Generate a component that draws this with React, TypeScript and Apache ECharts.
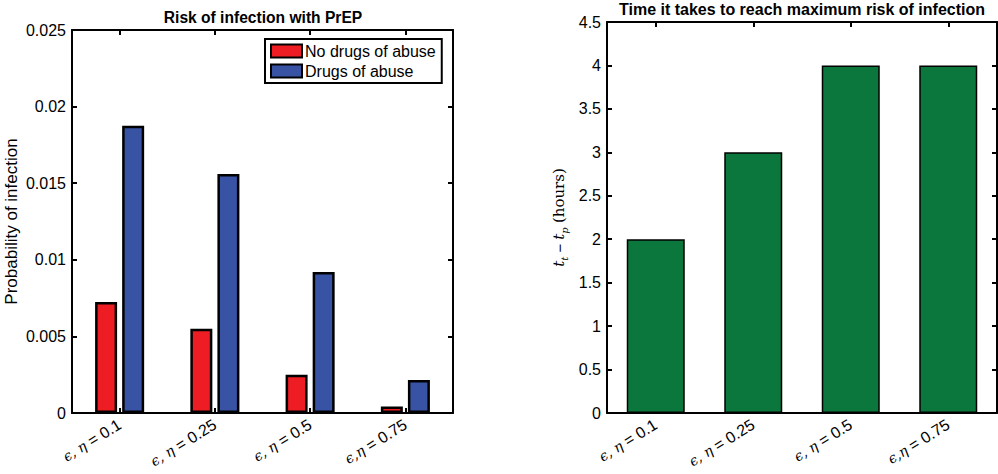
import React, { useEffect, useRef } from "react";
import * as echarts from "echarts";

const catLabels = ["ϵ, η = 0.1", "ϵ, η = 0.25", "ϵ, η = 0.5", "ϵ,η = 0.75"];
const noDrugs = [0.00725, 0.0055, 0.0025, 0.00043];
const drugs = [0.01875, 0.0156, 0.0092, 0.00215];
const timeToMax = [2, 3, 4, 4];
const seriesNames = ["No drugs of abuse", "Drugs of abuse"];
const titles = ["Risk of infection with PrEP", "Time it takes to reach maximum risk of infection"];
const leftYName = "Probability of infection";

const FONT = "Liberation Sans, Arial, Helvetica, sans-serif";
const MATH = "DejaVu Serif, serif";

export default function App() {
  const ref = useRef<HTMLDivElement>(null);
  useEffect(() => {
    document.body.style.margin = "0";
    if (!ref.current) return;
    const chart = echarts.init(ref.current, null, { renderer: "svg" });
    const black = "#000";
    const catLabel = {
      rotate: 32,
      margin: 10,
      fontSize: 16,
      color: black,
      fontFamily: FONT,
      formatter: (v: string) => {
        const [a, b] = v.split(" = ");
        return "{m|" + a + "} = " + b;
      },
      rich: { m: { fontFamily: MATH, fontStyle: "italic", fontSize: 14, color: black } },
    };
    const lineStyle = { color: black, width: 2 };
    const xBottom = (grid: number) => ({
      type: "category",
      gridIndex: grid,
      data: catLabels,
      position: "bottom",
      axisLine: { show: true, lineStyle, onZero: false },
      axisTick: { show: true, inside: true, alignWithLabel: true, length: 5, lineStyle },
      axisLabel: catLabel,
      splitLine: { show: false },
    });
    const xTop = (grid: number) => ({
      type: "category",
      gridIndex: grid,
      data: catLabels,
      position: "top",
      axisLine: { show: true, lineStyle, onZero: false },
      axisTick: { show: true, inside: true, alignWithLabel: true, length: 5, lineStyle },
      axisLabel: { show: false },
      splitLine: { show: false },
    });
    const yLeft = (grid: number, max: number, interval: number, name: any, nameGap: number, fontSize: number, rich?: any) => ({
      type: "value",
      gridIndex: grid,
      min: 0,
      max,
      interval,
      position: "left",
      name,
      nameLocation: "middle",
      nameGap,
      nameTextStyle: { fontSize, color: black, fontFamily: FONT, rich },
      axisLine: { show: true, lineStyle, onZero: false },
      axisTick: { show: true, inside: true, length: 5, lineStyle },
      axisLabel: { fontSize: 16, color: black, fontFamily: FONT, margin: 6 },
      splitLine: { show: false },
    });
    const yRight = (grid: number, max: number, interval: number) => ({
      type: "value",
      gridIndex: grid,
      min: 0,
      max,
      interval,
      position: "right",
      axisLine: { show: true, lineStyle, onZero: false },
      axisTick: { show: true, inside: true, length: 5, lineStyle },
      axisLabel: { show: false },
      splitLine: { show: false },
    });
    const rightName = "{i|t}{s|t} − {i|t}{s|p} {r|(hours)}";
    const rightRich = {
      i: { fontFamily: MATH, fontStyle: "italic", fontSize: 15, color: black, lineHeight: 20, verticalAlign: "middle" },
      s: { fontFamily: MATH, fontStyle: "italic", fontSize: 10, color: black, lineHeight: 20, verticalAlign: "bottom" },
      r: { fontFamily: MATH, fontSize: 15, color: black, lineHeight: 20, verticalAlign: "middle" },
    };
    chart.setOption({
      animation: false,
      grid: [
        { left: 72, right: 545, top: 30, bottom: 61 },
        { left: 607, right: 1, top: 22, bottom: 61 },
      ],
      xAxis: [xBottom(0), xTop(0), xBottom(1), xTop(1)],
      yAxis: [
        yLeft(0, 0.025, 0.005, leftYName, 52, 17),
        yRight(0, 0.025, 0.005),
        yLeft(1, 4.5, 0.5, rightName, 38, 15, rightRich),
        yRight(1, 4.5, 0.5),
      ],
      legend: {
        data: seriesNames,
        orient: "vertical",
        left: 265,
        top: 39,
        itemWidth: 31,
        itemHeight: 13,
        itemGap: 4,
        icon: "rect",
        padding: [4, 6, 4, 5],
        borderColor: black,
        borderWidth: 2,
        backgroundColor: "#fff",
        textStyle: { fontSize: 16, color: black, fontFamily: FONT, padding: [0, 0, 0, -2] },
      },
      graphic: [
        {
          type: "text",
          x: 263,
          y: 17.5,
          style: { text: titles[0], font: "bold 15.6px " + FONT, fill: black, textAlign: "center", align: "center", verticalAlign: "middle" },
        },
        {
          type: "text",
          x: 802,
          y: 9.5,
          style: { text: titles[1], font: "bold 16px " + FONT, fill: black, textAlign: "center", align: "center", verticalAlign: "middle" },
        },
      ],
      series: [
        {
          name: seriesNames[0],
          type: "bar",
          xAxisIndex: 0,
          yAxisIndex: 0,
          data: noDrugs,
          barWidth: 22,
          barGap: "23%",
          itemStyle: { color: "#EE1D23", borderColor: black, borderWidth: 2.5 },
        },
        {
          name: seriesNames[1],
          type: "bar",
          xAxisIndex: 0,
          yAxisIndex: 0,
          data: drugs,
          barWidth: 22,
          barGap: "23%",
          itemStyle: { color: "#3953A4", borderColor: black, borderWidth: 2.5 },
        },
        {
          name: "time",
          type: "bar",
          xAxisIndex: 2,
          yAxisIndex: 2,
          data: timeToMax,
          barWidth: 58,
          itemStyle: { color: "#0C773D", borderColor: black, borderWidth: 1.5 },
        },
      ],
    });
    return () => chart.dispose();
  }, []);
  return <div ref={ref} style={{ width: 998, height: 474 }} />;
}
